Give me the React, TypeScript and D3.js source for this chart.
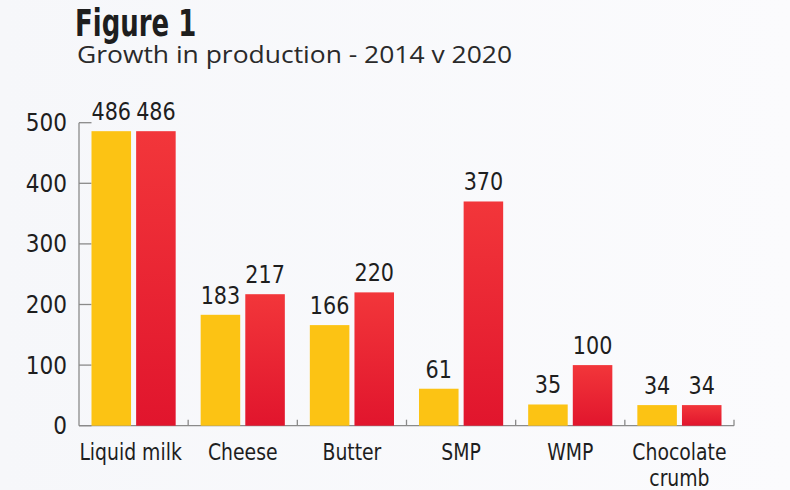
import React from 'react';
import * as d3 from 'd3';

const categories = [['Liquid milk'], ['Cheese'], ['Butter'], ['SMP'], ['WMP'], ['Chocolate', 'crumb']];
const series = ['2014', '2020'];
const values2014 = [486, 183, 166, 61, 35, 34];
const values2020 = [486, 217, 220, 370, 100, 34];
const yTicks = [0, 100, 200, 300, 400, 500];

const W = 790;
const H = 490;
const margin = { left: 79, right: 56, top: 122.7, bottom: 64.3 };
const narrow = '"DejaVu Sans Condensed", "Liberation Sans", sans-serif';
const ink = '#1e1e1e';
const axisGrey = '#8a8a8a';

// text squeezed sideways, the reference uses a condensed face
const SqText = ({ x, y, sx = 1, size = 23, anchor = 'middle', weight = 'normal', children }: any) => (
  <text
    transform={`translate(${x},${y}) scale(${sx},1)`}
    textAnchor={anchor}
    fontFamily={narrow}
    fontSize={size}
    fontWeight={weight}
    fill={ink}
  >
    {children}
  </text>
);

export default function App() {
  const innerW = W - margin.left - margin.right;
  const y = d3.scaleLinear().domain([0, 500]).range([H - margin.bottom, margin.top]);
  const x0 = d3
    .scaleBand<number>()
    .domain(categories.map((_, i) => i))
    .range([margin.left, margin.left + innerW]);
  const bw = x0.bandwidth();
  const x1 = d3.scaleBand<string>().domain(series).range([12.5, bw - 12.5]).paddingInner(0.114);
  const colors = { '2014': '#fcc314', '2020': 'url(#redGrad)' };
  const data = [values2014, values2020];
  const y0 = y(0);

  return (
    <svg width={W} height={H} style={{ position: 'fixed', left: 0, top: 0 }}>
      <defs>
        <linearGradient id="redGrad" x1="0" y1="0" x2="0" y2="1">
          <stop offset="0%" stopColor="#f2363a" />
          <stop offset="100%" stopColor="#e1152d" />
        </linearGradient>
        <linearGradient id="bg" x1="0" y1="0" x2="1" y2="0">
          <stop offset="0%" stopColor="#f6f7fa" />
          <stop offset="100%" stopColor="#fbfbfd" />
        </linearGradient>
      </defs>
      <rect width={W} height={H} fill="url(#bg)" />

      <SqText x={75} y={36} sx={0.78} size={37} anchor="start" weight="bold">
        Figure 1
      </SqText>
      <text
        x={77}
        y={63}
        fontFamily='"Open Sans", sans-serif'
        fontSize={24}
        fill="#2a2a2a"
        textLength={435}
        lengthAdjust="spacingAndGlyphs"
        style={{ fontVariantLigatures: 'none' }}
      >
        Growth in production - 2014 v 2020
      </text>

      {/* y axis */}
      <line x1={margin.left} x2={margin.left} y1={y(500)} y2={y0} stroke={axisGrey} strokeWidth={1.3} />
      {yTicks.map((t) => (
        <g key={t}>
          <line x1={margin.left} x2={margin.left + 12.5} y1={y(t)} y2={y(t)} stroke={axisGrey} strokeWidth={1.3} />
          <SqText x={67} y={y(t) + 8.5} size={24} anchor="end">
            {t}
          </SqText>
        </g>
      ))}

      {/* x axis */}
      <line x1={margin.left} x2={margin.left + innerW} y1={y0} y2={y0} stroke={axisGrey} strokeWidth={1.3} />
      {categories.map((_, i) => (
        <line
          key={i}
          x1={x0(i) + bw}
          x2={x0(i) + bw}
          y1={y0}
          y2={y0 - 6}
          stroke={axisGrey}
          strokeWidth={1.3}
        />
      ))}

      {/* bars */}
      {categories.map((c, i) => (
        <g key={c.join(' ')} transform={`translate(${x0(i)},0)`}>
          {series.map((s, j) => {
            const v = data[j][i];
            return (
              <g key={s}>
                <rect x={x1(s)} y={y(v)} width={x1.bandwidth()} height={y0 - y(v)} fill={colors[s]} />
                <SqText x={x1(s) + x1.bandwidth() / 2} y={y(v) - 11} size={24} sx={0.96}>
                  {v}
                </SqText>
              </g>
            );
          })}
          {c.map((line, k) => (
            <SqText key={line} x={bw / 2 - (i === 0 ? 3 : 0)} y={459.5 + k * 26} sx={0.91}>
              {line}
            </SqText>
          ))}
        </g>
      ))}
    </svg>
  );
}
